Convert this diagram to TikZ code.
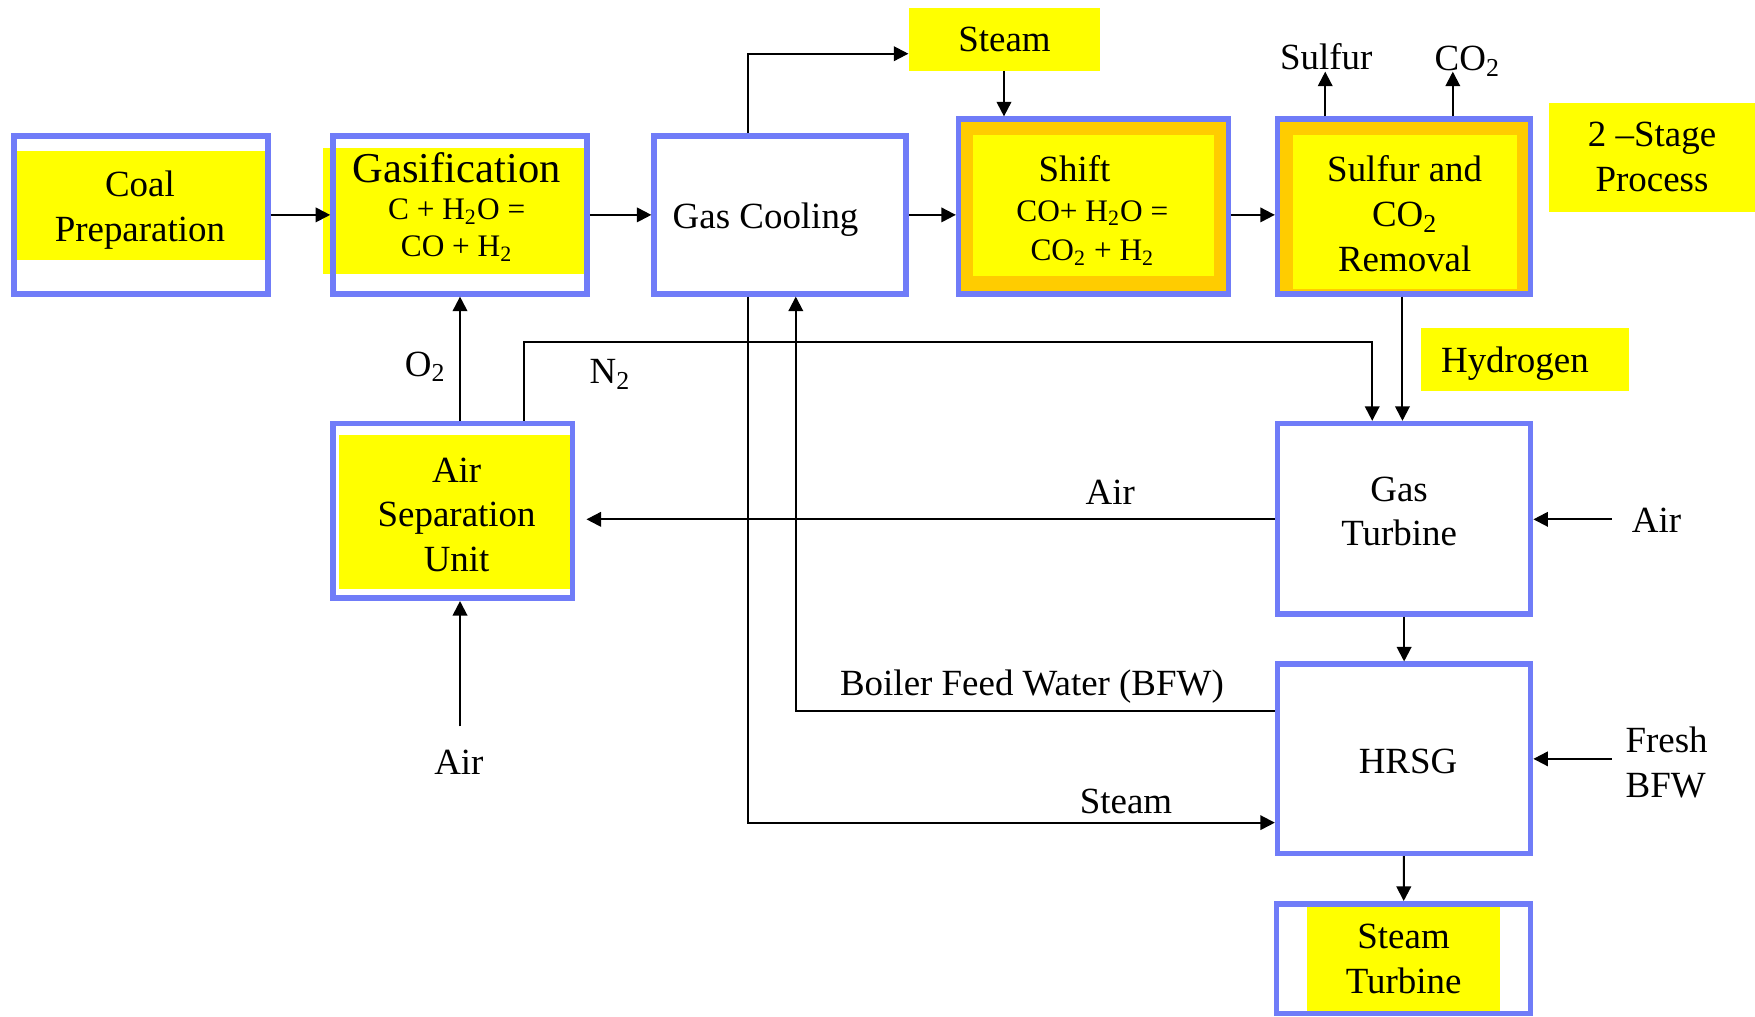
\documentclass[tikz,border=0pt]{standalone}
\usepackage{fontspec}
\setmainfont{Liberation Serif}
\usetikzlibrary{arrows.meta,calc}
\definecolor{bbord}{RGB}{112,124,248}
\definecolor{yel}{RGB}{255,255,0}
\definecolor{org}{RGB}{255,204,0}
\begin{document}
\begin{tikzpicture}[x=0.5pt,y=-0.5pt,
  box/.style={draw=bbord,line width=2.5pt,inner sep=0pt},
  txt/.style={align=center,font=\fontsize{16.5}{20}\selectfont,inner sep=0pt},
  lbl/.style={font=\fontsize{16.5}{20}\selectfont,inner sep=0pt,anchor=base},
  ybox/.style={fill=yel,inner sep=0pt,align=center,font=\fontsize{16.5}{20}\selectfont},
  flow/.style={line width=0.9pt,-{Triangle[length=6.5pt,width=6.5pt]}},
  line/.style={line width=0.9pt}]
\useasboundingbox (0,0) rectangle (1568,908);
% coloured backgrounds inside the boxes
\fill[yel] (14,135) rectangle (237,232);
\fill[yel] (289,132) rectangle (523,245);
\fill[org] (856,106) rectangle (1098,263);
\fill[yel] (869,121) rectangle (1085,247);
\fill[org] (1141,106) rectangle (1368,263);
\fill[yel] (1155,121) rectangle (1355,258);
\fill[yel] (303,389) rectangle (509,526);
\fill[yel] (1168,810) rectangle (1340,906);
% boxes
\node[box,minimum width=113.5pt,minimum height=70.5pt] (coal) at (126,192) {};
\node[box,minimum width=113.5pt,minimum height=70.5pt] (gasif) at (411,192) {};
\node[box,minimum width=112.5pt,minimum height=70.5pt] (cool) at (697,192) {};
\node[box,minimum width=120.5pt,minimum height=78pt] (shift) at (977,184.5) {};
\node[box,minimum width=113pt,minimum height=78pt] (sulf) at (1254.5,184.5) {};
\node[box,minimum width=107pt,minimum height=78pt] (asu) at (404.5,456.5) {};
\node[box,minimum width=113pt,minimum height=85pt] (gt) at (1254.5,463.5) {};
\node[box,minimum width=113pt,minimum height=84.5pt] (hrsg) at (1254.5,678) {};
\node[box,minimum width=113.5pt,minimum height=49pt] (st) at (1254,856.5) {};
% yellow label boxes
\node[ybox,minimum width=85.5pt,minimum height=28pt,text depth=0pt] (steamB) at (897.5,35) {Steam};
\node[ybox,minimum width=92.5pt,minimum height=28pt,text depth=0pt] (hydB) at (1362.5,321) {Hydrogen\rule{9pt}{0pt}};
\node[ybox,minimum width=92pt,minimum height=48.5pt] (stageB) at (1476,140.5) {2 –Stage\\Process};
% box texts
\node[txt] (coalT) at (125,188) {Coal\\Preparation};
\node[txt,font=\fontsize{14}{16.5}\selectfont] (gasT) at (408,185) {{\fontsize{19}{19}\selectfont Gasification}\\C + H\textsubscript{2}O =\\CO + H\textsubscript{2}};
\node[txt] (coolT) at (684,196) {Gas Cooling};
\node[txt,font=\fontsize{14}{17.5}\selectfont] (shiftT) at (976,188) {{\fontsize{16.5}{17.5}\selectfont Shift\rule{16pt}{0pt}}\\CO+ H\textsubscript{2}O =\\CO\textsubscript{2} + H\textsubscript{2}};
\node[txt] (sulfT) at (1255,191) {Sulfur and\\CO\textsubscript{2}\\Removal};
\node[txt] (asuT) at (408,460) {Air\\Separation\\Unit};
\node[txt] (gtT) at (1250,457) {Gas\\Turbine};
\node[txt] (hrsgT) at (1258,680) {HRSG};
\node[txt] (stT) at (1254,857) {Steam\\Turbine};
% stream labels
\node[lbl] (sulfurL) at (1185,62) {Sulfur};
\node[lbl] (co2L) at (1311,63) {CO\textsubscript{2}};
\node[lbl] (o2L) at (380,336) {O\textsubscript{2}};
\node[lbl] (n2L) at (545,343) {N\textsubscript{2}};
\node[lbl] (airL) at (992,451) {Air};
\node[lbl] (airR) at (1480,476) {Air};
\node[lbl] (bfwL) at (922,621) {Boiler Feed Water (BFW)};
\node[lbl] (steamL) at (1006,727) {Steam};
\node[lbl] (airB) at (410,692) {Air};
\node[txt,align=left,anchor=west] (freshL) at (1452,681) {Fresh\\BFW};
% free ends
\coordinate (sulfEnd) at (1184,64);
\coordinate (co2End) at (1298,64);
\coordinate (airRin) at (1440,464);
\coordinate (freshIn) at (1440,678);
\coordinate (airBin) at (411,649);
\coordinate (n2turn) at (468,306);
% connectors
\draw[flow] (coal.east |- 0,192) -- (gasif.west |- 0,192);
\draw[flow] (gasif.east |- 0,192) -- (cool.west |- 0,192);
\draw[flow] (cool.east |- 0,192) -- (shift.west |- 0,192);
\draw[flow] (shift.east |- 0,192) -- (sulf.west |- 0,192);
\draw[flow] (668,0 |- cool.north) |- (steamB.west |- 0,48);
\draw[flow] (897,0 |- steamB.south) -- (897,0 |- shift.north);
\draw[flow] (1184,0 |- sulf.north) -- (sulfEnd);
\draw[flow] (1298,0 |- sulf.north) -- (co2End);
\draw[flow] (1253,0 |- sulf.south) -- (1253,0 |- gt.north);
\draw[flow] (411,0 |- asu.north) -- (411,0 |- gasif.south);
\draw[flow] (468,0 |- asu.north) -- (n2turn) -| (1226,0 |- gt.north);
\draw[flow,shorten >=5pt] (gt.west |- 0,464) -- (asu.east |- 0,464);
\draw[flow] (airRin) -- (gt.east |- airRin);
\draw[flow] (gt) -- (hrsg);
\draw[flow] (hrsg) -- (st);
\draw[flow] (hrsg.west |- 0,635) -| (711,0 |- cool.south);
\draw[flow] (668,0 |- cool.south) |- (hrsg.west |- 0,735);
\draw[flow] (freshIn) -- (hrsg.east |- freshIn);
\draw[flow] (airBin) -- (411,0 |- asu.south);
\end{tikzpicture}
\end{document}
